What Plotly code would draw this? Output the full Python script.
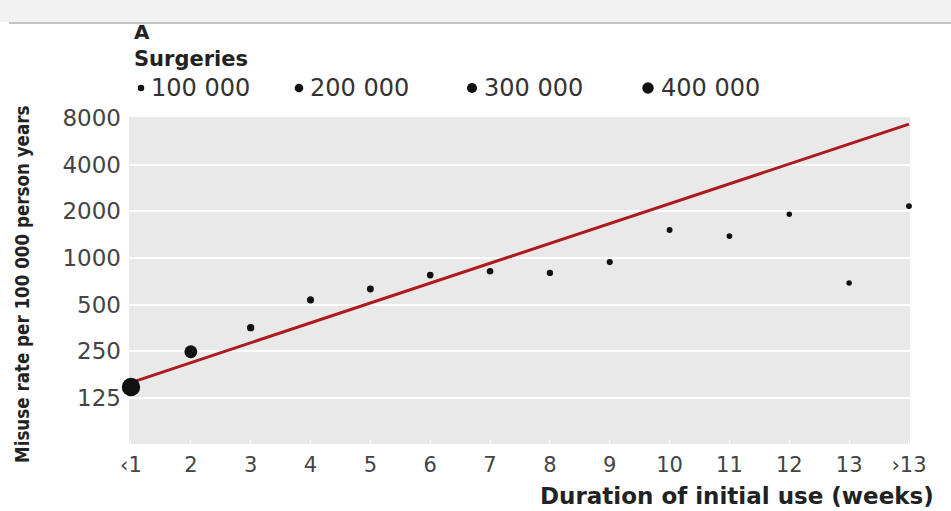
import math
import plotly.graph_objects as go

# ---- data ----
weeks = ["‹1", "2", "3", "4", "5", "6", "7", "8", "9", "10", "11", "12", "13", "›13"]
misuse_rate = [147, 248, 355, 536, 630, 775, 822, 800, 940, 1515, 1385, 1915, 688, 2160]
surgeries = [680000, 330000, 110000, 100000, 95000, 90000, 85000, 80000, 75000, 70000, 65000, 60000, 60000, 70000]
fit_weeks = ["‹1", "›13"]
fit_rate = [157, 7300]
legend_values = [100000, 200000, 300000, 400000]
legend_labels = ["100 000", "200 000", "300 000", "400 000"]
y_ticks = [125, 250, 500, 1000, 2000, 4000, 8000]

SIZEREF = 4000.0

def diam(v):
    return math.sqrt(v / SIZEREF)

W, H = 951, 511
L, R, T, B = 129, 41, 117, 67

def px2paper_x(px):
    return (px - L) / (W - L - R)

def py2paper_y(py):
    return (H - B - py) / (H - T - B)

fig = go.Figure()
fig.add_trace(go.Scatter(
    x=fit_weeks, y=fit_rate, mode="lines",
    line=dict(color="#ad1a1e", width=3), hoverinfo="skip", showlegend=False))
fig.add_trace(go.Scatter(
    x=weeks, y=misuse_rate, mode="markers",
    marker=dict(size=surgeries, sizemode="area", sizeref=SIZEREF, color="#111111",
                opacity=1, line=dict(width=0)),
    cliponaxis=False, showlegend=False))

# legend drawn manually
leg_x = [141, 299, 472, 648]
leg_y = 88
shapes = []
annotations = []
for px, v, lab in zip(leg_x, legend_values, legend_labels):
    d = diam(v) + 1.5
    shapes.append(dict(type="circle", xref="paper", yref="paper",
                       x0=px2paper_x(px - d / 2), x1=px2paper_x(px + d / 2),
                       y0=py2paper_y(leg_y + d / 2), y1=py2paper_y(leg_y - d / 2),
                       fillcolor="#111111", line=dict(width=0)))
    annotations.append(dict(text=lab, xref="paper", yref="paper",
                            x=px2paper_x(px + d / 2 + 5), y=py2paper_y(leg_y),
                            xanchor="left", yanchor="middle", showarrow=False,
                            font=dict(family="DejaVu Sans", size=24, color="#333333")))

# top band
shapes.append(dict(type="rect", xref="paper", yref="paper", layer="below",
                   x0=px2paper_x(0), x1=px2paper_x(W), y0=py2paper_y(22), y1=py2paper_y(0),
                   fillcolor="#f2f2f2", line=dict(width=0)))
shapes.append(dict(type="line", xref="paper", yref="paper",
                   x0=px2paper_x(9), x1=px2paper_x(W), y0=py2paper_y(23), y1=py2paper_y(23),
                   line=dict(color="#c4c4c4", width=2)))

annotations.append(dict(text="<b>A</b>", xref="paper", yref="paper",
                        x=px2paper_x(132), y=py2paper_y(32), xanchor="left", yanchor="middle",
                        showarrow=False, font=dict(family="DejaVu Sans", size=20, color="#222222")))
annotations.append(dict(text="<b>Surgeries</b>", xref="paper", yref="paper",
                        x=px2paper_x(132), y=py2paper_y(59), xanchor="left", yanchor="middle",
                        showarrow=False, font=dict(family="DejaVu Sans", size=21, color="#222222")))
annotations.append(dict(text="<b>Duration of initial use (weeks)</b>", xref="paper", yref="paper",
                        x=px2paper_x(936), y=py2paper_y(496), xanchor="right", yanchor="middle",
                        showarrow=False, font=dict(family="DejaVu Sans", size=23, color="#222222")))
annotations.append(dict(text="<b>Misuse rate per 100 000 person years</b>", xref="paper", yref="paper",
                        x=px2paper_x(22), y=py2paper_y(284), xanchor="center", yanchor="middle",
                        textangle=-90, showarrow=False,
                        font=dict(family="DejaVu Sans Condensed, Roboto, sans-serif", size=18.6,
                                  color="#222222")))

fig.update_layout(
    template="none",
    width=W, height=H,
    margin=dict(l=L, r=R, t=T, b=B, pad=0),
    paper_bgcolor="white", plot_bgcolor="#e9e9e9",
    shapes=shapes, annotations=annotations, showlegend=False,
)
fig.update_xaxes(
    type="category", categoryorder="array", categoryarray=weeks,
    range=[-0.033, 13.017], automargin=False,
    showgrid=False, zeroline=False, showline=False,
    ticks="inside", ticklen=4, tickwidth=1, tickcolor="#ffffff",
    tickfont=dict(family="DejaVu Sans", size=21, color="#444444"),
    ticklabelstandoff=6,
)
fig.update_yaxes(
    type="log", range=[math.log10(63), math.log10(8120)], automargin=False,
    tickvals=y_ticks, ticktext=[str(v) for v in y_ticks],
    showgrid=True, gridcolor="#ffffff", gridwidth=2,
    zeroline=False, showline=False, ticks="",
    tickfont=dict(family="DejaVu Sans", size=23, color="#444444"),
    ticklabelstandoff=7,
)
fig.write_html("out.html", config={"displayModeBar": False},
               post_script="document.body.style.margin='0';document.body.style.overflow='hidden';")
